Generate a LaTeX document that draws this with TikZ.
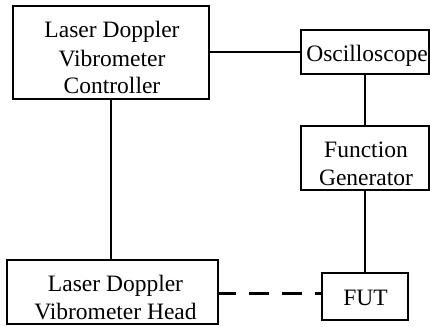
\documentclass[tikz,border=0pt]{standalone}
\usepackage{fontspec}
\setmainfont{Liberation Serif}
\begin{document}
\begin{tikzpicture}[x=1pt,y=-1pt,
  box/.style={draw, line width=2.2pt, inner sep=0pt},
  lbl/.style={anchor=base, inner sep=0pt, font=\fontsize{23.5}{28}\selectfont},
  wire/.style={line width=2.2pt}]
\useasboundingbox (0,0) rectangle (430,326);
% boxes
\node[box, minimum width=196pt, minimum height=93pt] (ctrl) at (111,52.5) {};
\node[box, minimum width=128pt, minimum height=44pt] (osc) at (365,52) {};
\node[box, minimum width=128pt, minimum height=64pt] (fg) at (365,158) {};
\node[box, minimum width=211pt, minimum height=64pt] (head) at (112.5,292) {};
\node[box, minimum width=86pt, minimum height=47pt] (fut) at (365,296.5) {};
% texts
\node[lbl] (ctrlt) at (112,94) {\begin{tabular}[b]{@{}c@{}}Laser Doppler\\Vibrometer\\Controller\end{tabular}};
\node[lbl] (osct) at (367,62) {Oscilloscope};
\node[lbl] (fgt) at (366,185.5) {\begin{tabular}[b]{@{}c@{}}Function\\Generator\end{tabular}};
\node[lbl] (headt) at (115.5,319) {\begin{tabular}[b]{@{}c@{}}Laser Doppler\\Vibrometer Head\end{tabular}};
\node[lbl] (futt) at (365.5,305) {FUT};
% connectors
\draw[wire] (osc.west) -- (osc.west -| ctrl.east);
\draw[wire] (osc.south) -- (fg.north);
\draw[wire] (ctrl.south) -- (ctrl.south |- head.north);
\draw[wire] (fg.south) -- (fut.north);
\draw[wire, dash pattern=on 20pt off 13pt, dash phase=3pt] ([yshift=3pt]fut.west -| head.east) -- ([yshift=3pt]fut.west);
\end{tikzpicture}
\end{document}
